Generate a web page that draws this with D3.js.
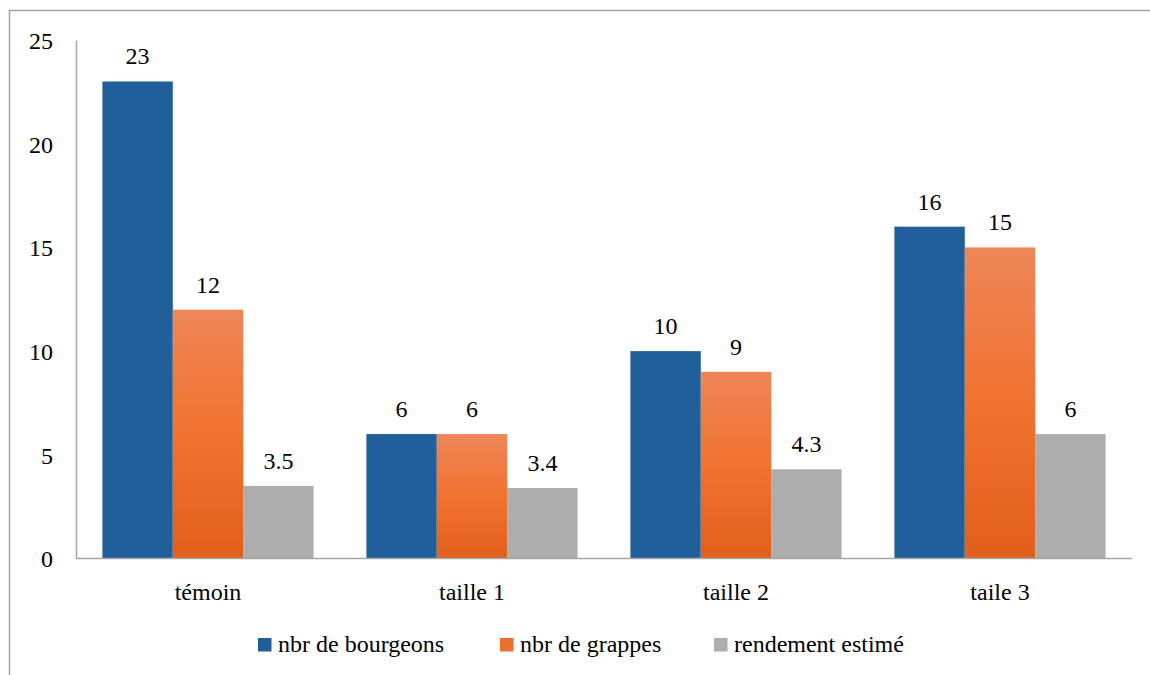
<!DOCTYPE html>
<html>
<head>
<meta charset="utf-8">
<script src="https://cdn.jsdelivr.net/npm/d3@7"></script>
<style>
  html, body { margin: 0; padding: 0; background: #fff; }
  svg { display: block; }
  svg text { font-family: "Liberation Serif", "Times New Roman", Times, "DejaVu Serif", serif !important; fill: #000; }
</style>
</head>
<body>
<svg id="chart" width="1150" height="675"></svg>
<script>
// Categories and series
const categories = ["témoin", "taille 1", "taille 2", "taile 3"];
const seriesNames = ["nbr de bourgeons", "nbr de grappes", "rendement estimé"];
const bourgeons = [23, 6, 10, 16];
const grappes = [12, 6, 9, 15];
const rendement = [3.5, 3.4, 4.3, 6];
const yTicks = [0, 5, 10, 15, 20, 25];

const seriesValues = [bourgeons, grappes, rendement];

const FONT = "'Liberation Serif', 'Times New Roman', Times, 'DejaVu Serif', serif";
const FS = "24px";

const svg = d3.select("#chart");
const W = 1150, H = 675;

// Outer frame (left and top edges visible)
svg.append("path")
  .attr("d", `M9.5,${H} L9.5,10.5 L${W},10.5`)
  .attr("fill", "none")
  .attr("stroke", "#a3a3a3")
  .attr("stroke-width", 1.5);

// Orange gradient for the second series
const defs = svg.append("defs");
const grad = defs.append("linearGradient")
  .attr("id", "orangeGrad")
  .attr("x1", 0).attr("y1", 0).attr("x2", 0).attr("y2", 1);
grad.append("stop").attr("offset", "0%").attr("stop-color", "#ee8658");
grad.append("stop").attr("offset", "50%").attr("stop-color", "#f1722f");
grad.append("stop").attr("offset", "100%").attr("stop-color", "#e15f1b");

const fills = ["#215f9a", "url(#orangeGrad)", "#adadad"];
const legendFills = ["#215f9a", "#ec6f2f", "#adadad"];

const plot = { left: 76, right: 1132, top: 40, bottom: 558.5 };

const x = d3.scaleBand()
  .domain(categories)
  .range([plot.left, plot.right])
  .paddingInner(0)
  .paddingOuter(0);

const xs = d3.scaleBand()
  .domain(seriesNames)
  .range([0, x.bandwidth()])
  .paddingInner(0)
  .paddingOuter(0.375);

const y = d3.scaleLinear()
  .domain([0, 25])
  .range([plot.bottom, plot.top]);

// Bars
const groups = svg.append("g").selectAll("g")
  .data(categories)
  .join("g")
  .attr("transform", d => `translate(${x(d)},0)`);

groups.selectAll("rect")
  .data((c, ci) => seriesNames.map((s, si) => ({ s, si, v: seriesValues[si][ci] })))
  .join("rect")
  .attr("x", d => xs(d.s))
  .attr("width", xs.bandwidth())
  .attr("y", d => y(d.v))
  .attr("height", d => y(0) - y(d.v))
  .attr("fill", d => fills[d.si]);

// Value labels
groups.selectAll("text.val")
  .data((c, ci) => seriesNames.map((s, si) => ({ s, si, v: seriesValues[si][ci] })))
  .join("text")
  .attr("class", "val")
  .attr("x", d => xs(d.s) + xs.bandwidth() / 2)
  .attr("y", d => y(d.v) - 17)
  .attr("text-anchor", "middle")
  .attr("font-family", FONT)
  .style("font-size", FS)
  .text(d => d.v);

// Y axis
const yAxis = svg.append("g")
  .attr("transform", `translate(${plot.left},0)`)
  .call(d3.axisLeft(y).tickValues(yTicks).tickSize(0).tickPadding(23).tickFormat(d3.format("d")));
yAxis.attr("font-family", FONT);
yAxis.select(".domain").attr("stroke", "#a6a6a6").attr("stroke-width", 1.5);
yAxis.selectAll("text")
  .style("font-size", FS)
  .attr("dy", "0.35em");

// X axis
const xAxis = svg.append("g")
  .attr("transform", `translate(0,${plot.bottom})`)
  .call(d3.axisBottom(x).tickSize(0).tickPadding(24));
xAxis.attr("font-family", FONT);
xAxis.select(".domain")
  .attr("stroke", "#a6a6a6")
  .attr("stroke-width", 1.5)
  .attr("d", `M${plot.left},0H${plot.right}`);
xAxis.selectAll("text")
  .style("font-size", FS);

// Legend
const legendX = [258, 500, 714];
const legend = svg.append("g").selectAll("g")
  .data(seriesNames)
  .join("g")
  .attr("transform", (d, i) => `translate(${legendX[i]},638)`);
legend.append("rect")
  .attr("width", 13.5).attr("height", 13.5)
  .attr("fill", (d, i) => legendFills[i]);
legend.append("text")
  .attr("x", 20)
  .attr("y", 14)
  .attr("font-family", FONT)
  .style("font-size", FS)
  .text(d => d);
</script>
</body>
</html>
